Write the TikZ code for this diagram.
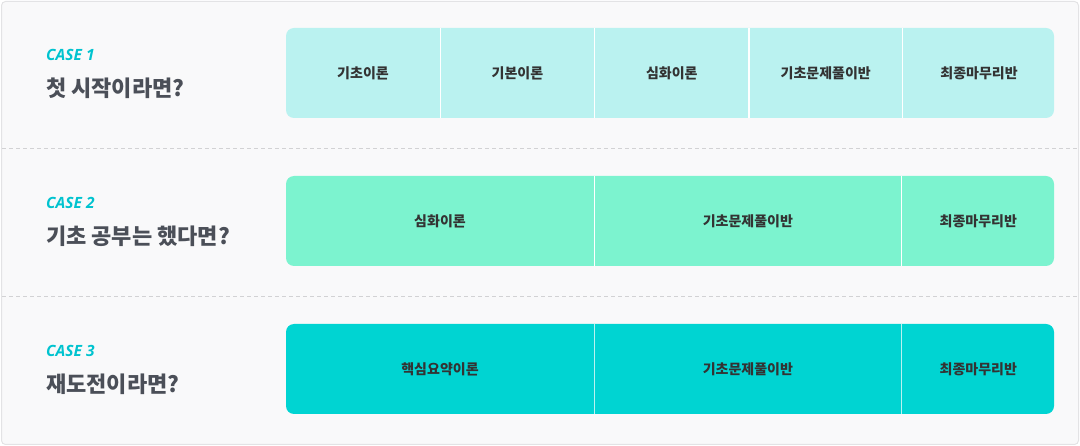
\documentclass[tikz,border=0pt]{standalone}
\usepackage{fontspec}
\setmainfont{Noto Sans CJK KR}
\newfontfamily\casefont{Open Sans}
\usetikzlibrary{positioning}

\definecolor{panelbg}{HTML}{F9F9FA}
\definecolor{panelline}{HTML}{E3E3E5}
\definecolor{sepline}{HTML}{D2D2D4}
\definecolor{casecyan}{HTML}{00C3CF}
\definecolor{headgray}{HTML}{4B4F58}
\definecolor{labelgray}{HTML}{333333}
\definecolor{barone}{HTML}{BAF2F0}
\definecolor{bartwo}{HTML}{7CF3CF}
\definecolor{barthree}{HTML}{00D4D2}

\begin{document}
\begin{tikzpicture}[
        x = 1pt, y = -1pt,
        casetag/.style = {anchor=west, inner sep=0pt, text=casecyan,
            font=\casefont\bfseries\itshape\fontsize{15.5}{16}\selectfont},
        heading/.style = {anchor=west, inner sep=0pt, text=headgray,
            font=\bfseries\fontsize{22}{22}\selectfont},
        bar/.style = {rectangle, rounded corners=8pt, draw=none, inner sep=0pt,
            minimum height=90pt, minimum width=768pt},
        seg/.style = {rectangle, inner sep=0pt, minimum height=90pt, text=labelgray,
            font=\bfseries\fontsize{14}{14}\selectfont},
        divider/.style = {draw=white, line width=1.2pt},
        separator/.style = {draw=sepline, dash pattern=on 4pt off 3pt, line width=0.8pt}
    ]
    \useasboundingbox (0,0) rectangle (1080,446);

    % Panel
    \node (panel) [rectangle, draw=panelline, fill=panelbg, rounded corners=4pt,
        line width=1pt, minimum width=1077pt, minimum height=443pt, inner sep=0pt]
        at (540,223) {};
    \coordinate (sepA) at (2,148);
    \coordinate (sepB) at (2,296);
    \path [separator] (sepA) -- (sepA -| panel.east);
    \path [separator] (sepB) -- (sepB -| panel.east);

    % Case 1
    \node (case1) [casetag] at (46,55) {CASE 1};
    \node (head1) [heading] at (46,88) {첫 시작이라면?};
    \node (bar1) [bar, fill=barone] at (670,73) {};
    \node (s11) [seg, minimum width=154pt, anchor=west] at (bar1.west) {기초이론};
    \node (s12) [seg, minimum width=154pt, right=0pt of s11] {기본이론};
    \node (s13) [seg, minimum width=154pt, right=0pt of s12] {심화이론};
    \node (s14) [seg, minimum width=153pt, right=0pt of s13] {기초문제풀이반};
    \node (s15) [seg, minimum width=153pt, right=0pt of s14] {최종마무리반};
    \path [divider] (s11.north east) -- (s11.south east);
    \path [divider] (s12.north east) -- (s12.south east);
    \path [divider] (s13.north east) -- (s13.south east);
    \path [divider] (s14.north east) -- (s14.south east);

    % Case 2
    \node (case2) [casetag] at (46,203) {CASE 2};
    \node (head2) [heading] at (46,236) {기초 공부는 했다면?};
    \node (bar2) [bar, fill=bartwo] at (670,221) {};
    \node (s21) [seg, minimum width=308pt, anchor=west] at (bar2.west) {심화이론};
    \node (s22) [seg, minimum width=307pt, right=0pt of s21] {기초문제풀이반};
    \node (s23) [seg, minimum width=153pt, right=0pt of s22] {최종마무리반};
    \path [divider] (s21.north east) -- (s21.south east);
    \path [divider] (s22.north east) -- (s22.south east);

    % Case 3
    \node (case3) [casetag] at (46,351) {CASE 3};
    \node (head3) [heading] at (46,384) {재도전이라면?};
    \node (bar3) [bar, fill=barthree] at (670,369) {};
    \node (s31) [seg, minimum width=308pt, anchor=west] at (bar3.west) {핵심요약이론};
    \node (s32) [seg, minimum width=307pt, right=0pt of s31] {기초문제풀이반};
    \node (s33) [seg, minimum width=153pt, right=0pt of s32] {최종마무리반};
    \path [divider, draw=barone] (s31.north east) -- (s31.south east);
    \path [divider, draw=barone] (s32.north east) -- (s32.south east);

\end{tikzpicture}
\end{document}
